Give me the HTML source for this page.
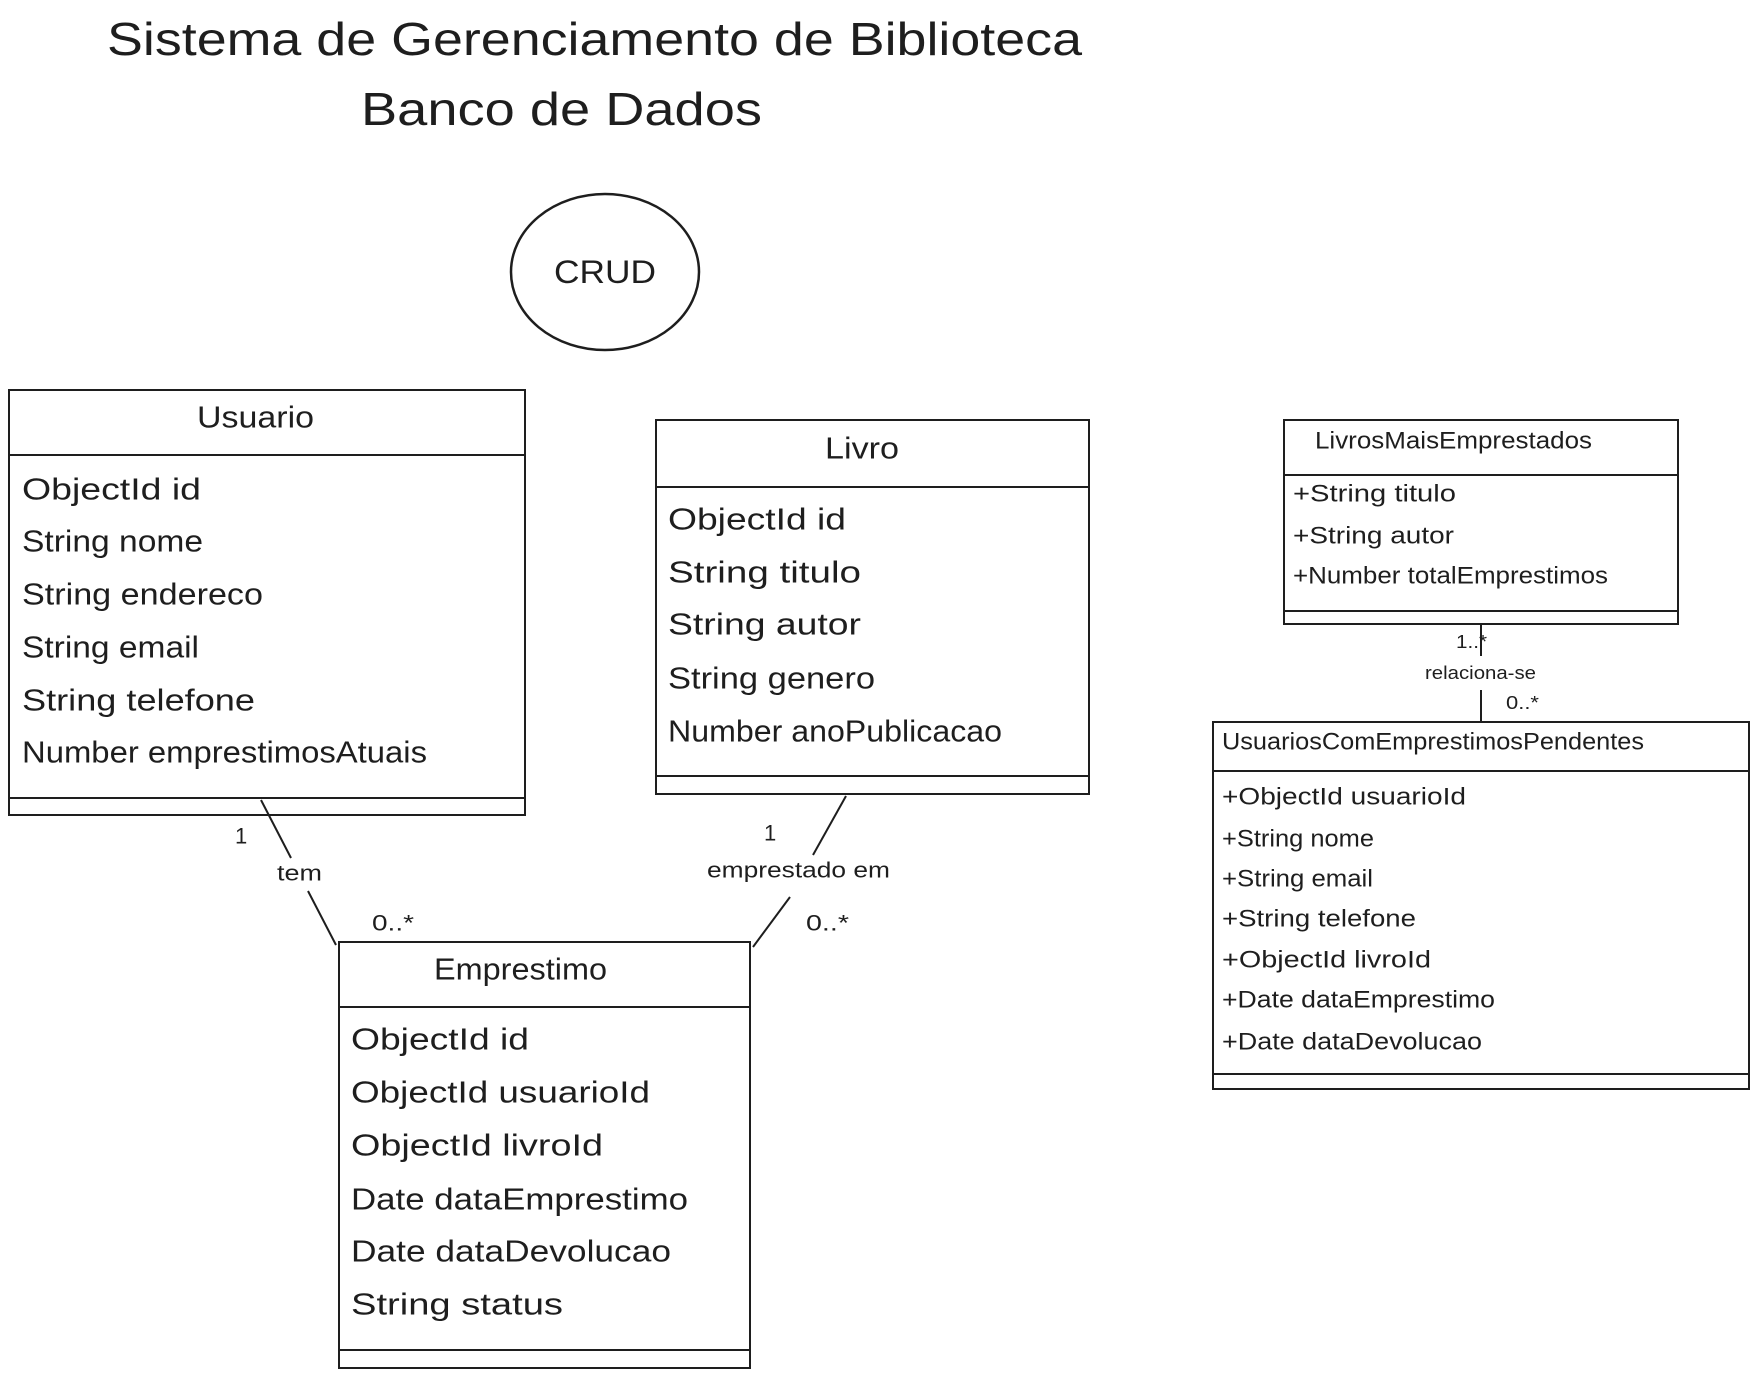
<!DOCTYPE html>
<html><head><meta charset="utf-8"><style>html,body{margin:0;padding:0;background:#fff}svg{display:block}</style></head>
<body>
<svg width="1758" height="1377" viewBox="0 0 1758 1377" xmlns="http://www.w3.org/2000/svg" font-family="'Liberation Sans', sans-serif" fill="#1e1e1e">
<g dominant-baseline="central">
<text x="107" y="39" font-size="46" textLength="975" lengthAdjust="spacingAndGlyphs">Sistema de Gerenciamento de Biblioteca</text>
<text x="361" y="109" font-size="46" textLength="401" lengthAdjust="spacingAndGlyphs">Banco de Dados</text>
</g>
<ellipse cx="605" cy="272" rx="94" ry="78" fill="none" stroke="#1e1e1e" stroke-width="2.5"/>
<text x="554" y="272" font-size="32" dominant-baseline="central" textLength="102" lengthAdjust="spacingAndGlyphs">CRUD</text>

<g fill="none" stroke="#1e1e1e" stroke-width="2">
<rect x="9" y="390" width="516" height="425"/><line x1="9" y1="455" x2="525" y2="455"/><line x1="9" y1="798" x2="525" y2="798"/>
<rect x="656" y="420" width="433" height="374"/><line x1="656" y1="487" x2="1089" y2="487"/><line x1="656" y1="776" x2="1089" y2="776"/>
<rect x="339" y="942" width="411" height="426"/><line x1="339" y1="1007" x2="750" y2="1007"/><line x1="339" y1="1350" x2="750" y2="1350"/>
<rect x="1284" y="420" width="394" height="204"/><line x1="1284" y1="475" x2="1678" y2="475"/><line x1="1284" y1="611" x2="1678" y2="611"/>
<rect x="1213" y="722" width="536" height="367"/><line x1="1213" y1="771" x2="1749" y2="771"/><line x1="1213" y1="1074" x2="1749" y2="1074"/>
<line x1="261" y1="800" x2="291" y2="858"/><line x1="308" y1="891" x2="336" y2="945"/>
<line x1="846" y1="796" x2="813" y2="855"/><line x1="790" y1="897" x2="753" y2="947"/>
<line x1="1481" y1="624" x2="1481" y2="656"/><line x1="1481" y1="690" x2="1481" y2="722"/>
</g>

<g font-size="31" dominant-baseline="central">
<text x="197" y="417" textLength="117" lengthAdjust="spacingAndGlyphs">Usuario</text>
<text x="22" y="489" textLength="179" lengthAdjust="spacingAndGlyphs">ObjectId id</text>
<text x="22" y="541" textLength="181" lengthAdjust="spacingAndGlyphs">String nome</text>
<text x="22" y="594" textLength="241" lengthAdjust="spacingAndGlyphs">String endereco</text>
<text x="22" y="647" textLength="177" lengthAdjust="spacingAndGlyphs">String email</text>
<text x="22" y="700" textLength="233" lengthAdjust="spacingAndGlyphs">String telefone</text>
<text x="22" y="752" textLength="405" lengthAdjust="spacingAndGlyphs">Number emprestimosAtuais</text>

<text x="825" y="448" textLength="74" lengthAdjust="spacingAndGlyphs">Livro</text>
<text x="668" y="519" textLength="178" lengthAdjust="spacingAndGlyphs">ObjectId id</text>
<text x="668" y="572" textLength="193" lengthAdjust="spacingAndGlyphs">String titulo</text>
<text x="668" y="624" textLength="193" lengthAdjust="spacingAndGlyphs">String autor</text>
<text x="668" y="678" textLength="207" lengthAdjust="spacingAndGlyphs">String genero</text>
<text x="668" y="731" textLength="334" lengthAdjust="spacingAndGlyphs">Number anoPublicacao</text>

<text x="434" y="969" textLength="173" lengthAdjust="spacingAndGlyphs">Emprestimo</text>
<text x="351" y="1039" textLength="178" lengthAdjust="spacingAndGlyphs">ObjectId id</text>
<text x="351" y="1092" textLength="299" lengthAdjust="spacingAndGlyphs">ObjectId usuarioId</text>
<text x="351" y="1145" textLength="252" lengthAdjust="spacingAndGlyphs">ObjectId livroId</text>
<text x="351" y="1199" textLength="337" lengthAdjust="spacingAndGlyphs">Date dataEmprestimo</text>
<text x="351" y="1251" textLength="320" lengthAdjust="spacingAndGlyphs">Date dataDevolucao</text>
<text x="351" y="1304" textLength="212" lengthAdjust="spacingAndGlyphs">String status</text>
</g>

<g font-size="24" dominant-baseline="central">
<text x="1315" y="441" textLength="277" lengthAdjust="spacingAndGlyphs">LivrosMaisEmprestados</text>
<text x="1293" y="494" textLength="163" lengthAdjust="spacingAndGlyphs">+String titulo</text>
<text x="1293" y="536" textLength="161" lengthAdjust="spacingAndGlyphs">+String autor</text>
<text x="1293" y="576" textLength="315" lengthAdjust="spacingAndGlyphs">+Number totalEmprestimos</text>

<text x="1222" y="742" textLength="422" lengthAdjust="spacingAndGlyphs">UsuariosComEmprestimosPendentes</text>
<text x="1222" y="797" textLength="244" lengthAdjust="spacingAndGlyphs">+ObjectId usuarioId</text>
<text x="1222" y="839" textLength="152" lengthAdjust="spacingAndGlyphs">+String nome</text>
<text x="1222" y="879" textLength="151" lengthAdjust="spacingAndGlyphs">+String email</text>
<text x="1222" y="919" textLength="194" lengthAdjust="spacingAndGlyphs">+String telefone</text>
<text x="1222" y="960" textLength="209" lengthAdjust="spacingAndGlyphs">+ObjectId livroId</text>
<text x="1222" y="1000" textLength="273" lengthAdjust="spacingAndGlyphs">+Date dataEmprestimo</text>
<text x="1222" y="1042" textLength="260" lengthAdjust="spacingAndGlyphs">+Date dataDevolucao</text>
</g>

<g font-size="22" dominant-baseline="central">
<text x="235" y="836">1</text>
<text x="277" y="873" textLength="45" lengthAdjust="spacingAndGlyphs">tem</text>
<text x="372" y="923" textLength="42" lengthAdjust="spacingAndGlyphs">0..*</text>
<text x="764" y="833">1</text>
<text x="707" y="870" textLength="183" lengthAdjust="spacingAndGlyphs">emprestado em</text>
<text x="806" y="923" textLength="43" lengthAdjust="spacingAndGlyphs">0..*</text>
</g>
<g font-size="18" dominant-baseline="central">
<text x="1456" y="642" textLength="31" lengthAdjust="spacingAndGlyphs">1..*</text>
<text x="1425" y="673" textLength="111" lengthAdjust="spacingAndGlyphs">relaciona-se</text>
<text x="1506" y="703" textLength="33" lengthAdjust="spacingAndGlyphs">0..*</text>
</g>
</svg>
</body></html>
